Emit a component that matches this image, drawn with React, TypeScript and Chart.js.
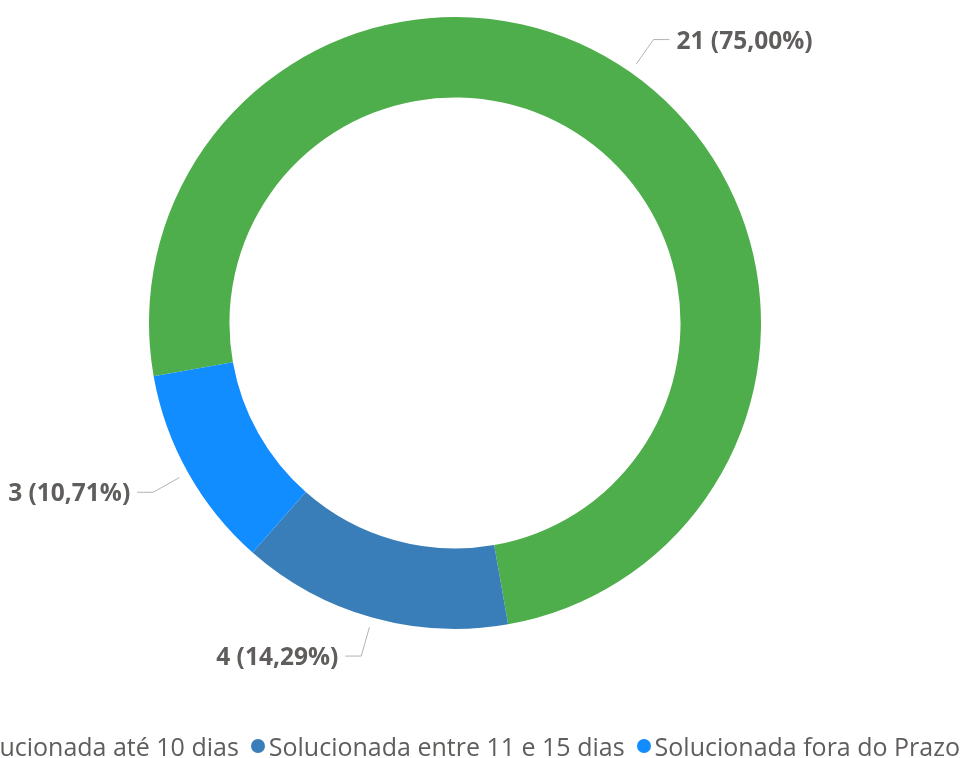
import React, { useEffect, useRef } from "react";
import { Chart, registerables } from "chart.js";

Chart.register(...registerables);

const categories = [
  "Solucionada até 10 dias",
  "Solucionada entre 11 e 15 dias",
  "Solucionada fora do Prazo",
];
const values = [21, 4, 3];
const colors = ["#4EAE4B", "#3A7EB9", "#118DFF"];

const TEXT_COLOR = "#605E5C";
const FONT = "'Open Sans', 'Noto Sans', sans-serif";

const formatLabel = (v: number, total: number) =>
  `${v} (${((v / total) * 100).toFixed(2).replace(".", ",")}%)`;

const leaderLabels = {
  id: "leaderLabels",
  afterDatasetsDraw(chart: any) {
    const ctx = chart.ctx;
    const meta = chart.getDatasetMeta(0);
    const data = chart.data.datasets[0].data as number[];
    const total = data.reduce((a, b) => a + b, 0);
    ctx.save();
    meta.data.forEach((arc: any, i: number) => {
      const { x, y, startAngle, endAngle, outerRadius } = arc.getProps(
        ["x", "y", "startAngle", "endAngle", "outerRadius"],
        true
      );
      const mid = (startAngle + endAngle) / 2;
      const c = Math.cos(mid);
      const s = Math.sin(mid);
      const x1 = x + c * (outerRadius + 10);
      const y1 = y + s * (outerRadius + 10);
      const x2 = x + c * (outerRadius + 40);
      const y2 = y + s * (outerRadius + 40);
      const dir = c >= 0 ? 1 : -1;
      const x3 = x2 + dir * 16;
      ctx.strokeStyle = "#B3B3B3";
      ctx.lineWidth = 1;
      ctx.beginPath();
      ctx.moveTo(x1, y1);
      ctx.lineTo(x2, y2);
      ctx.lineTo(x3, y2);
      ctx.stroke();
      ctx.fillStyle = TEXT_COLOR;
      ctx.font = `bold 24.5px ${FONT}`;
      ctx.textAlign = dir > 0 ? "left" : "right";
      ctx.textBaseline = "middle";
      ctx.fillText(formatLabel(data[i], total), x3 + dir * 7, y2 + 2);
    });
    ctx.restore();
  },
};

export default function App() {
  const canvasRef = useRef<HTMLCanvasElement>(null);

  useEffect(() => {
    document.body.style.margin = "0";
    const chart = new Chart(canvasRef.current!, {
      type: "doughnut",
      data: {
        labels: categories,
        datasets: [
          {
            data: values,
            backgroundColor: colors,
            borderWidth: 0,
          },
        ],
      },
      options: {
        animation: false,
        responsive: false,
        rotation: -100,
        cutout: "73.7%",
        layout: { padding: { left: 149, top: 17, right: 202, bottom: 129 } },
        plugins: {
          legend: { display: false },
          tooltip: { enabled: false },
        },
      },
      plugins: [leaderLabels],
    });
    return () => chart.destroy();
  }, []);

  return (
    <div
      style={{
        position: "fixed",
        left: 0,
        top: 0,
        width: 963,
        height: 758,
        overflow: "hidden",
        background: "#fff",
      }}
    >
      <canvas ref={canvasRef} width={963} height={758} style={{ position: "absolute", left: 0, top: 0 }} />
      <div
        style={{
          position: "absolute",
          right: 3,
          top: 729,
          height: 34,
          display: "flex",
          alignItems: "center",
          whiteSpace: "nowrap",
          fontFamily: FONT,
          fontSize: 25,
          color: TEXT_COLOR,
        }}
      >
        {categories.map((c, i) => (
          <div key={c} style={{ display: "flex", alignItems: "center", marginLeft: i === 0 ? 0 : 12 }}>
            <span
              style={{
                display: "inline-block",
                width: 14,
                height: 14,
                borderRadius: "50%",
                background: colors[i],
                marginRight: 4,
              }}
            />
            <span>{c}</span>
          </div>
        ))}
      </div>
    </div>
  );
}
